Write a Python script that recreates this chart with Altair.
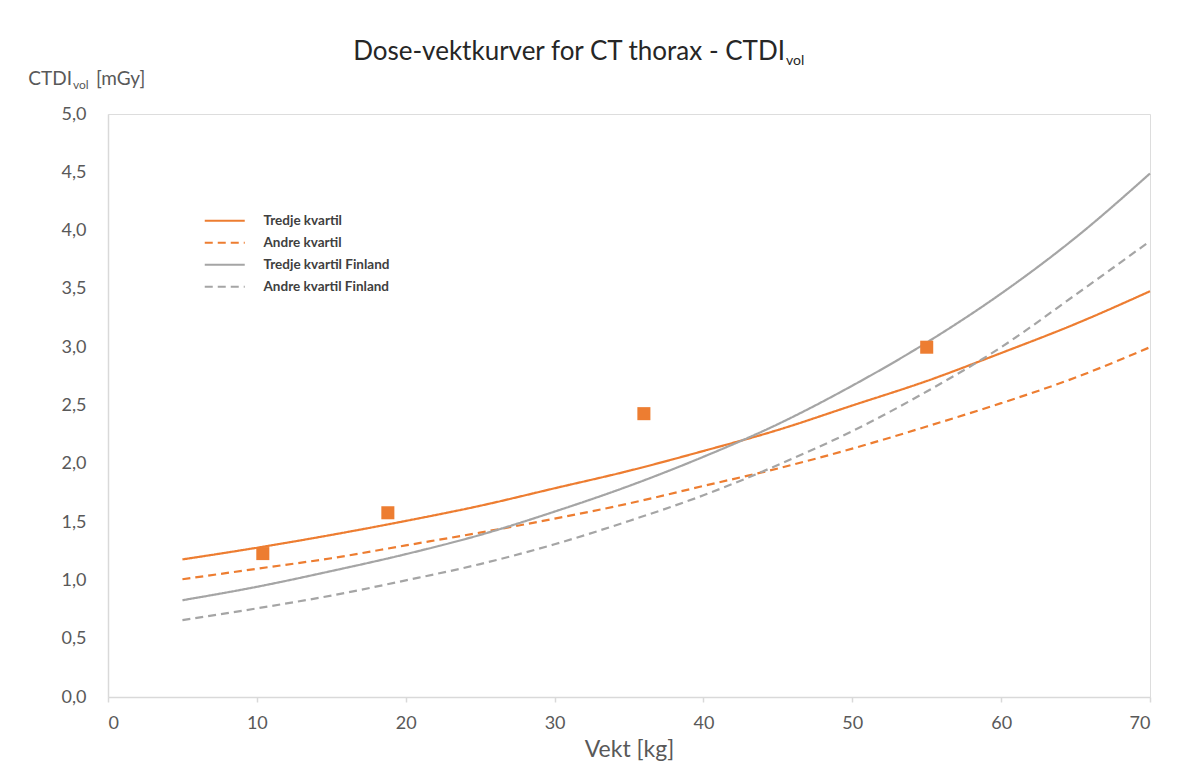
import altair as alt
import pandas as pd

# ---- data ----
weights = [5, 10, 15, 20, 25, 30, 35, 40, 45, 50, 55, 60, 65, 70]
tredje = [1.18, 1.28, 1.39, 1.51, 1.64, 1.79, 1.94, 2.11, 2.29, 2.50, 2.71, 2.95, 3.20, 3.48]
andre = [1.01, 1.10, 1.19, 1.30, 1.41, 1.53, 1.66, 1.81, 1.96, 2.13, 2.32, 2.52, 2.74, 3.00]
tredje_fin = [0.83, 0.945, 1.08, 1.225, 1.39, 1.59, 1.81, 2.06, 2.34, 2.67, 3.04, 3.46, 3.94, 4.49]
andre_fin = [0.66, 0.76, 0.87, 1.00, 1.14, 1.31, 1.51, 1.73, 1.99, 2.28, 2.62, 3.00, 3.45, 3.91]
series_names = ["Tredje kvartil", "Andre kvartil", "Tredje kvartil Finland", "Andre kvartil Finland"]
pt_x = [10.4, 18.8, 36.0, 55.0]
pt_y = [1.23, 1.58, 2.43, 3.00]
x_ticks = [0, 10, 20, 30, 40, 50, 60, 70]
y_ticks = [0, 0.5, 1.0, 1.5, 2.0, 2.5, 3.0, 3.5, 4.0, 4.5, 5.0]

ORANGE = "#ED7D31"
GRAY = "#A5A5A5"
FONT = "Lato"
AXIS_GRAY = "#D9D9D9"
LABEL_GRAY = "#595959"

rows = []
for name, vals in zip(series_names, [tredje, andre, tredje_fin, andre_fin]):
    for w, v in zip(weights, vals):
        rows.append({"serie": name, "vekt": w, "ctdi": v})
df = pd.DataFrame(rows)
pts = pd.DataFrame({"vekt": pt_x, "ctdi": pt_y})

x_enc = alt.X("vekt:Q", scale=alt.Scale(domain=[0, 70], nice=False),
              axis=alt.Axis(values=x_ticks, title="Vekt [kg]", grid=False,
                            labelPadding=12, labelFont=FONT, labelFontSize=18,
                            labelColor=LABEL_GRAY, domainColor=AXIS_GRAY, domainWidth=1.5,
                            tickColor=AXIS_GRAY, tickSize=5, tickWidth=1.5,
                            titleFontSize=23, titleColor=LABEL_GRAY, titleFont=FONT,
                            titleFontWeight="normal", titlePadding=6))
y_enc = alt.Y("ctdi:Q", scale=alt.Scale(domain=[0, 5], nice=False),
              axis=alt.Axis(values=y_ticks, title=None, grid=False, labelPadding=22,
                            tickSize=0, labelFont=FONT, labelFontSize=18,
                            labelColor=LABEL_GRAY, domainColor=AXIS_GRAY, domainWidth=1.5,
                            labelExpr="replace(format(datum.value, '.1f'), '.', ',')"))

leg = alt.Legend(orient="none", legendX=110, legendY=100, title=None,
                 symbolType="M-4,0H4", symbolSize=100, symbolStrokeWidth=2,
                 labelFont=FONT, labelFontSize=13.5, labelFontWeight="bold",
                 labelColor="#404040", rowPadding=7, labelOffset=32)

lines = alt.Chart(df).mark_line(interpolate="monotone", strokeWidth=2.2).encode(
    x=x_enc,
    y=y_enc,
    color=alt.Color("serie:N", scale=alt.Scale(domain=series_names,
                                                range=[ORANGE, ORANGE, GRAY, GRAY]),
                    legend=leg),
    strokeDash=alt.StrokeDash("serie:N", scale=alt.Scale(domain=series_names,
                                                          range=[[1, 0], [8, 5], [1, 0], [8, 5]]),
                              legend=leg),
)

points = alt.Chart(pts).mark_square(size=170, color=ORANGE, opacity=1).encode(
    x="vekt:Q", y="ctdi:Q")

def txt(s, x, y, size, color, align="left"):
    return alt.Chart(pd.DataFrame({"t": [s]})).mark_text(
        align=align, baseline="alphabetic", font=FONT, fontSize=size, color=color
    ).encode(text="t:N", x=alt.value(x), y=alt.value(y))

title_main = txt("Dose-vektkurver for CT thorax - CTDI", 677, -54, 26, "#262626", "right")
title_sub = txt("vol", 678, -49, 14, "#262626")
ytitle_main = txt("CTDI", -36, -29, 19, LABEL_GRAY, "right")
ytitle_sub = txt("vol", -35, -25, 12, LABEL_GRAY)
ytitle_rest = txt("[mGy]", -12, -29, 19, LABEL_GRAY)

chart = alt.layer(lines, points, title_main, title_sub, ytitle_main, ytitle_sub, ytitle_rest).properties(
    width=1042, height=583,
    autosize=alt.AutoSizeParams(type="none"),
    padding={"left": 100, "top": 106, "right": 24, "bottom": 75},
).configure_view(stroke=None).configure(background="white")

chart.save("out.html", embed_options={"renderer": "svg", "actions": False})
